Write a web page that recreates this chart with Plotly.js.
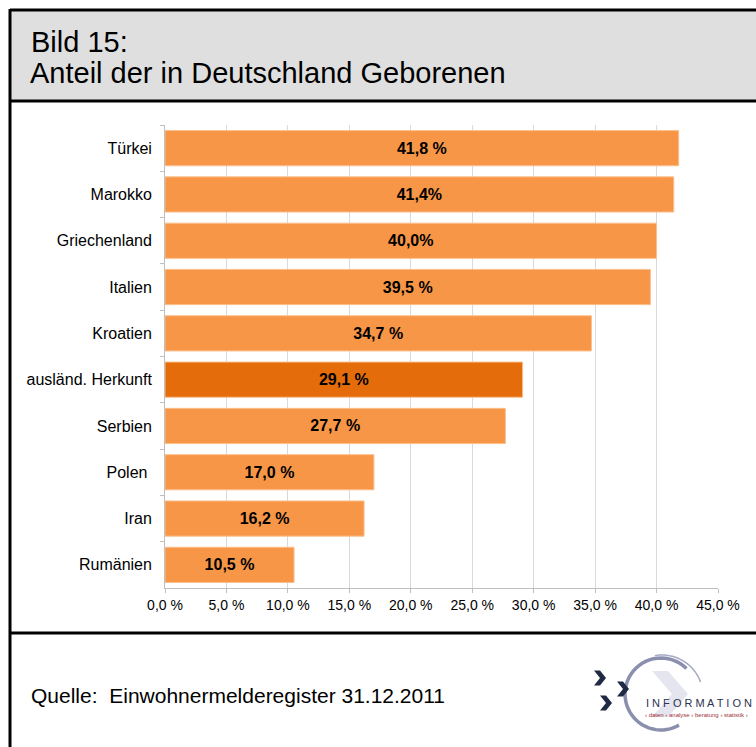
<!DOCTYPE html>
<html>
<head>
<meta charset="utf-8">
<script src="https://cdn.plot.ly/plotly-3.0.1.min.js"></script>
<style>
  html, body { margin: 0; padding: 0; background: #fff; }
  #chart { width: 756px; height: 747px; }
</style>
</head>
<body>
<div id="chart"></div>
<script>
// Data
const categories = ['Türkei', 'Marokko', 'Griechenland', 'Italien', 'Kroatien',
                    'ausländ. Herkunft', 'Serbien', 'Polen ', 'Iran', 'Rumänien'];
const shares = [41.8, 41.4, 40.0, 39.5, 34.7, 29.1, 27.7, 17.0, 16.2, 10.5];
const shareLabels = ['41,8 %', '41,4%', '40,0%', '39,5 %', '34,7 %', '29,1 %', '27,7 %', '17,0 %', '16,2 %', '10,5 %'];
const tickValues = [0, 5, 10, 15, 20, 25, 30, 35, 40, 45];
const tickLabels = ['0,0 %', '5,0 %', '10,0 %', '15,0 %', '20,0 %', '25,0 %', '30,0 %', '35,0 %', '40,0 %', '45,0 %'];
const highlight = 'ausländ. Herkunft';

// plot area in pixels: left 165, right 718, top 125, bottom 588
const L = 165, R = 718, T = 125, B = 588;
const px = x => (x - L) / (R - L);
const py = y => (B - y) / (B - T);

const barColors = categories.map(c => c === highlight ? '#E46C0A' : '#F79646');

const trace = {
    type: 'bar',
    orientation: 'h',
    y: categories,
    x: shares,
    text: shareLabels,
    textposition: 'inside',
    insidetextanchor: 'middle',
    textangle: 0,
    textfont: { family: 'Liberation Sans, Arial, sans-serif', size: 16, color: '#000', weight: 'bold' },
    marker: { color: barColors, line: { color: '#FBBF8C', width: 1 } },
    hoverinfo: 'none',
    cliponaxis: false
};

// logo helpers (pixel geometry -> paper path)
function arcPath(cx, cy, r, a0, a1) {
    let d = '';
    for (let i = 0; i <= 40; i++) {
        const t = (a0 + (a1 - a0) * i / 40) * Math.PI / 180;
        const x = cx + r * Math.cos(t), y = cy - r * Math.sin(t);
        d += (i === 0 ? 'M ' : ' L ') + px(x) + ' ' + py(y);
    }
    return d;
}
function chevron(cx, cy, w, h, th) {
    const p = [[cx - w / 2, cy - h / 2], [cx - w / 2 + th, cy - h / 2], [cx + w / 2, cy],
               [cx - w / 2 + th, cy + h / 2], [cx - w / 2, cy + h / 2], [cx + w / 2 - th, cy]];
    return 'M ' + p.map(([x, y]) => px(x) + ' ' + py(y)).join(' L ') + ' Z';
}

const shapes = [
    // header box
    { type: 'rect', xref: 'paper', yref: 'paper', x0: px(10), x1: px(780), y0: py(10), y1: py(101),
      fillcolor: '#DFDFDF', line: { width: 0 }, layer: 'below' },
    // frame lines
    { type: 'line', xref: 'paper', yref: 'paper', x0: px(10), x1: px(780), y0: py(10), y1: py(10), line: { color: '#000', width: 3 } },
    { type: 'line', xref: 'paper', yref: 'paper', x0: px(10), x1: px(780), y0: py(101), y1: py(101), line: { color: '#000', width: 3 } },
    { type: 'line', xref: 'paper', yref: 'paper', x0: px(10), x1: px(780), y0: py(633), y1: py(633), line: { color: '#000', width: 3 } },
    { type: 'line', xref: 'paper', yref: 'paper', x0: px(10), x1: px(10), y0: py(9), y1: py(760), line: { color: '#000', width: 3 } },
    // logo: large faint chevron
    { type: 'path', xref: 'paper', yref: 'paper', path: chevron(670, 694, 36, 46, 16),
      fillcolor: '#E4E5EE', line: { width: 0 } },
    // logo: swirl ring
    { type: 'path', xref: 'paper', yref: 'paper', path: arcPath(661, 694, 36, 45, 300),
      line: { color: '#8A8FAE', width: 3.5 } },
    { type: 'path', xref: 'paper', yref: 'paper', path: arcPath(662, 696, 41, 20, 100),
      line: { color: '#A5A9C2', width: 1.5 } },
    // logo: dark chevrons
    ...[[600, 678], [623, 689], [606, 703]].map(([cx, cy]) => ({
        type: 'path', xref: 'paper', yref: 'paper', path: chevron(cx, cy, 12, 15, 6),
        fillcolor: '#1F2B45', line: { width: 0 }
    }))
];

const annotations = [
    { text: 'Bild 15:', xref: 'paper', yref: 'paper', x: px(29), y: py(42), xanchor: 'left', yanchor: 'middle',
      showarrow: false, font: { family: 'Liberation Sans, Arial, sans-serif', size: 29, color: '#000' } },
    { text: 'Anteil der in Deutschland Geborenen', xref: 'paper', yref: 'paper', x: px(28), y: py(73), xanchor: 'left', yanchor: 'middle',
      showarrow: false, font: { family: 'Liberation Sans, Arial, sans-serif', size: 29, color: '#000' } },
    { text: 'Quelle:  Einwohnermelderegister 31.12.2011', xref: 'paper', yref: 'paper', x: px(29), y: py(695), xanchor: 'left', yanchor: 'middle',
      showarrow: false, font: { family: 'Liberation Sans, Arial, sans-serif', size: 21, color: '#000' } },
    { text: 'I N F O R M A T I O N', xref: 'paper', yref: 'paper', x: px(644), y: py(703), xanchor: 'left', yanchor: 'middle',
      showarrow: false, font: { family: 'Liberation Sans, Arial, sans-serif', size: 11, color: '#2B3350' } },
    { text: '› daten › analyse › beratung › statistik ›', xref: 'paper', yref: 'paper', x: px(643), y: py(715), xanchor: 'left', yanchor: 'middle',
      showarrow: false, font: { family: 'Liberation Sans, Arial, sans-serif', size: 6, color: '#A0303A' } }
];

const layout = {
    width: 756,
    height: 747,
    margin: { l: L, r: 756 - R, t: T, b: 747 - B, pad: 0 },
    paper_bgcolor: '#fff',
    plot_bgcolor: '#fff',
    showlegend: false,
    bargap: 0.24,
    font: { family: 'Liberation Sans, Arial, sans-serif', color: '#000' },
    xaxis: {
        range: [0, 45],
        tickvals: tickValues,
        ticktext: tickLabels,
        showgrid: true,
        gridcolor: '#D9D9D9',
        gridwidth: 1,
        zeroline: false,
        showline: true,
        linecolor: '#BFBFBF',
        linewidth: 1,
        ticks: 'outside',
        ticklen: 4,
        tickcolor: '#BFBFBF',
        tickfont: { size: 14, color: '#000' },
        fixedrange: true
    },
    yaxis: {
        autorange: 'reversed',
        showline: true,
        linecolor: '#BFBFBF',
        linewidth: 1,
        ticks: 'outside',
        tickson: 'boundaries',
        ticklen: 4,
        tickcolor: '#BFBFBF',
        showgrid: false,
        ticksuffix: '  ',
        tickfont: { size: 16, color: '#000' },
        fixedrange: true
    },
    shapes: shapes,
    annotations: annotations
};

Plotly.newPlot('chart', [trace], layout, { displayModeBar: false, staticPlot: true });
</script>
</body>
</html>
